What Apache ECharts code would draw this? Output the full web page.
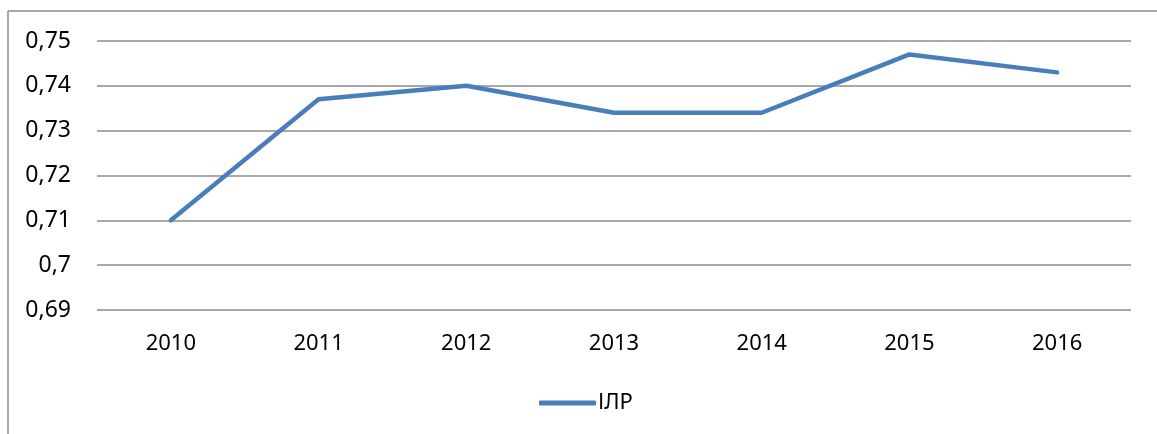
<!DOCTYPE html>
<html>
<head>
<meta charset="utf-8">
<script src="https://cdn.jsdelivr.net/npm/echarts@6/dist/echarts.min.js"></script>
<style>
  html, body { margin: 0; padding: 0; background: #fff; }
  #lineChart { width: 1157px; height: 434px; }
</style>
</head>
<body>
<div id="lineChart"></div>
<script>
var years = ['2010', '2011', '2012', '2013', '2014', '2015', '2016'];
var ilrValues = [0.710, 0.737, 0.740, 0.734, 0.734, 0.747, 0.743];
var seriesName = 'ІЛР';

var dom = document.getElementById("lineChart");
var myChart = echarts.init(dom);
var lineColor = '#4a7ebb';
var font = 'Noto Sans, sans-serif';

var option = {
    animation: false,
    backgroundColor: '#fff',
    graphic: [
        {type: 'line', shape: {x1: 8, y1: 11, x2: 1157, y2: 11}, style: {stroke: '#8c8c8c', lineWidth: 1.5}},
        {type: 'line', shape: {x1: 8, y1: 11, x2: 8, y2: 434}, style: {stroke: '#8c8c8c', lineWidth: 1.5}}
    ],
    grid: {left: 97, right: 26, top: 41, bottom: 124, containLabel: false},
    legend: {
        data: [seriesName],
        left: 534,
        top: 387,
        itemWidth: 57,
        itemHeight: 5,
        itemGap: 4,
        icon: 'roundRect',
        textStyle: {fontFamily: font, fontSize: 22, color: '#000', padding: [0, 0, 0, -3]}
    },
    xAxis: {
        type: 'category',
        data: years,
        boundaryGap: true,
        axisLine: {show: false},
        axisTick: {show: false},
        axisLabel: {fontFamily: font, fontSize: 22, color: '#000', margin: 23}
    },
    yAxis: {
        type: 'value',
        min: 0.69,
        max: 0.75,
        interval: 0.01,
        axisLine: {show: false},
        axisTick: {show: false},
        axisLabel: {
            fontFamily: font, fontSize: 23, color: '#000', margin: 26,
            formatter: function (v) {
                return String(parseFloat(v.toFixed(2))).replace('.', ',');
            }
        },
        splitLine: {lineStyle: {color: '#8c8c8c', width: 1.5}}
    },
    series: [{
        name: seriesName,
        type: 'line',
        data: ilrValues,
        symbol: 'none',
        lineStyle: {color: lineColor, width: 4.5, cap: 'round', join: 'round'},
        itemStyle: {color: lineColor}
    }]
};

myChart.setOption(option, true);
</script>
</body>
</html>
